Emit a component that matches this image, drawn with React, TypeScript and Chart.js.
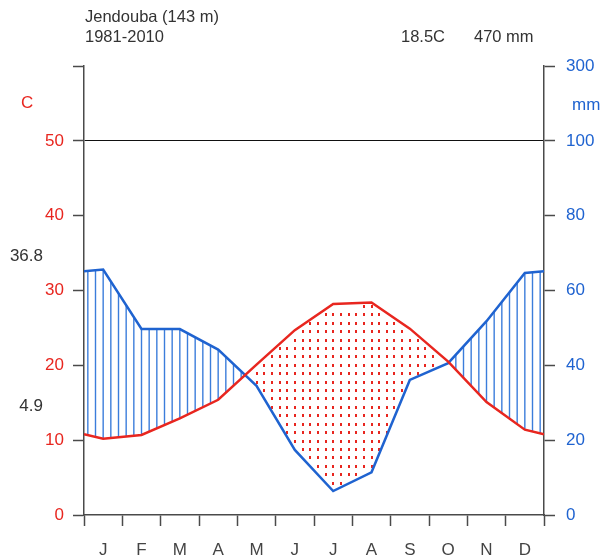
import React, { useEffect, useRef } from "react";
import { Chart, registerables } from "chart.js";

Chart.register(...registerables);

const months = ["J", "F", "M", "A", "M", "J", "J", "A", "S", "O", "N", "D"];
const temperature = [10.2, 10.7, 12.9, 15.4, 20.1, 24.7, 28.2, 28.4, 24.9, 20.5, 15.1, 11.4];
const precipitation = [65.6, 49.7, 49.7, 44.2, 34.5, 17.4, 6.4, 11.4, 36.1, 40.6, 51.8, 64.7];
const leftTicks = [0, 10, 20, 30, 40, 50, 60];
const rightTickLabels: Record<number, string> = { 0: "0", 10: "20", 20: "40", 30: "60", 40: "80", 50: "100", 60: "300" };
const stationTitle = "Jendouba (143 m)";
const periodLabel = "1981-2010";
const meanTempLabel = "18.5C";
const totalPrecipLabel = "470 mm";
const maxTempLabel = "36.8";
const minTempLabel = "4.9";

const RED = "#e8261f";
const BLUE = "#1f63d0";
const HATCH = "#3b7ddb";
const AXIS = "#4a4a4a";
const FONT = "'Liberation Sans', Arial, sans-serif";

// precipitation (mm) -> temperature-scale units (Walter-Lieth: 10C = 20mm, above 100mm compressed)
const p2t = (p: number) => (p <= 100 ? p / 2 : 50 + (p - 100) / 20);

function withEdges(vals: number[]) {
  const edge = (vals[0] + vals[vals.length - 1]) / 2;
  const pts = [{ x: 0, y: edge }];
  vals.forEach((v, i) => pts.push({ x: i + 0.5, y: v }));
  pts.push({ x: 12, y: edge });
  return pts;
}

function interp(pts: { x: number; y: number }[], x: number) {
  for (let i = 0; i < pts.length - 1; i++) {
    const a = pts[i], b = pts[i + 1];
    if (x >= a.x && x <= b.x) return a.y + ((b.y - a.y) * (x - a.x)) / (b.x - a.x);
  }
  return pts[pts.length - 1].y;
}

export default function App() {
  const ref = useRef<HTMLCanvasElement>(null);
  useEffect(() => {
    if (!ref.current) return;
    const tPts = withEdges(temperature);
    const pPts = withEdges(precipitation.map(p2t));

    const fillPlugin = {
      id: "wlFill",
      beforeDatasetsDraw(chart: any) {
        const { ctx, scales, chartArea } = chart;
        const xs = scales.x, ys = scales.y;
        ctx.save();
        ctx.beginPath();
        ctx.rect(chartArea.left, chartArea.top, chartArea.right - chartArea.left, chartArea.bottom - chartArea.top);
        ctx.clip();
        for (let k = 0; k < 60; k++) {
          const xm = 0.1 + 0.2 * k;
          const t = interp(tPts, xm);
          const p = interp(pPts, xm);
          const px = xs.getPixelForValue(xm);
          if (p > t) {
            ctx.strokeStyle = HATCH;
            ctx.lineWidth = 1.4;
            ctx.beginPath();
            ctx.moveTo(px, ys.getPixelForValue(t));
            ctx.lineTo(px, ys.getPixelForValue(p));
            ctx.stroke();
          } else {
            ctx.fillStyle = RED;
            for (let v = 0.945; v < t; v += 1.125) {
              if (v > p + 0.4 && v < t - 0.4) {
                const py = ys.getPixelForValue(v);
                ctx.fillRect(Math.round(px) - 1, Math.round(py) - 1, 2, 3);
              }
            }
          }
        }
        ctx.restore();
      },
      afterDraw(chart: any) {
        const { ctx, scales } = chart;
        const ys = scales.y;
        ctx.save();
        ctx.font = `16.5px ${FONT}`;
        ctx.textBaseline = "middle";
        ctx.fillStyle = "#333";
        ctx.textAlign = "left";
        ctx.fillText(stationTitle, 85, 17);
        ctx.fillText(periodLabel, 85, 37);
        ctx.fillText(meanTempLabel, 401, 37);
        ctx.fillText(totalPrecipLabel, 474, 37);
        ctx.font = `17px ${FONT}`;
        ctx.textAlign = "right";
        ctx.fillText(maxTempLabel, 43, 256);
        ctx.fillText(minTempLabel, 43, 406);
        const y55 = ys.getPixelForValue(55);
        ctx.textAlign = "left";
        ctx.fillStyle = RED;
        ctx.fillText("C", 21, y55);
        ctx.fillStyle = BLUE;
        ctx.fillText("mm", 572, y55 + 2);
        ctx.restore();
      },
    };

    const chart = new Chart(ref.current, {
      type: "line",
      data: {
        datasets: [
          {
            label: "Temperature",
            data: tPts,
            borderColor: RED,
            borderWidth: 2.5,
            pointRadius: 0,
            tension: 0,
            fill: false,
            yAxisID: "y",
          },
          {
            label: "Precipitation",
            data: pPts,
            borderColor: BLUE,
            borderWidth: 2.5,
            pointRadius: 0,
            tension: 0,
            fill: false,
            yAxisID: "y",
          },
        ],
      },
      options: {
        animation: false,
        responsive: false,
        devicePixelRatio: 1,
        layout: { padding: { top: 66, left: 0, right: 0, bottom: 0 } },
        plugins: { legend: { display: false }, tooltip: { enabled: false }, title: { display: false } },
        scales: {
          x: {
            type: "linear",
            min: 0,
            max: 12,
            afterFit: (s: any) => { s.height = 42; },
            afterBuildTicks: (s: any) => {
              const t = [];
              for (let i = 0; i <= 24; i++) t.push({ value: i / 2 });
              s.ticks = t;
            },
            ticks: {
              autoSkip: false,
              maxRotation: 0,
              padding: 14,
              color: "#444",
              font: { family: FONT, size: 17 },
              callback: (v: any) => {
                const n = Number(v);
                return Math.abs(n - Math.floor(n) - 0.5) < 1e-6 ? months[Math.floor(n)] : "";
              },
            },
            grid: {
              drawOnChartArea: false,
              drawTicks: true,
              tickLength: 11,
              tickWidth: 1.5,
              tickColor: (c: any) => (c.tick && Math.abs(c.tick.value - Math.round(c.tick.value)) < 1e-6 ? AXIS : "rgba(0,0,0,0)"),
            },
            border: { display: true, color: AXIS, width: 1.5 },
          },
          y: {
            type: "linear",
            position: "left",
            min: 0,
            max: 60,
            afterFit: (s: any) => { s.width = 84; },
            afterBuildTicks: (s: any) => { s.ticks = leftTicks.map((v) => ({ value: v })); },
            ticks: {
              padding: 9,
              color: RED,
              font: { family: FONT, size: 17 },
              callback: (v: any) => (Number(v) === 60 ? "" : String(v)),
            },
            grid: {
              drawOnChartArea: true,
              drawTicks: true,
              tickLength: 11,
              tickWidth: 1.5,
              tickColor: AXIS,
              lineWidth: 1,
              color: (c: any) => (c.tick && c.tick.value === 50 ? "#111" : "rgba(0,0,0,0)"),
            },
            border: { display: true, color: AXIS, width: 1.5 },
          },
          y2: {
            type: "linear",
            position: "right",
            min: 0,
            max: 60,
            afterFit: (s: any) => { s.width = 63; },
            afterBuildTicks: (s: any) => { s.ticks = leftTicks.map((v) => ({ value: v })); },
            ticks: {
              padding: 11,
              color: BLUE,
              font: { family: FONT, size: 17 },
              callback: (v: any) => rightTickLabels[Number(v)] ?? "",
            },
            grid: {
              drawOnChartArea: false,
              drawTicks: true,
              tickLength: 11,
              tickWidth: 1.5,
              tickColor: AXIS,
            },
            border: { display: true, color: AXIS, width: 1.5 },
          },
        },
      },
      plugins: [fillPlugin],
    } as any);
    return () => chart.destroy();
  }, []);

  return (
    <div style={{ position: "fixed", left: 0, top: 0, width: 607, height: 557, background: "#fff" }}>
      <canvas ref={ref} width={607} height={557} style={{ width: 607, height: 557, display: "block" }} />
    </div>
  );
}
